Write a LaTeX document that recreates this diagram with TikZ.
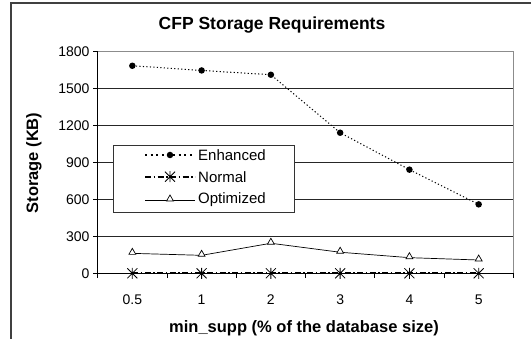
\documentclass[tikz,border=0pt]{standalone}
\usepackage{fontspec}
\setmainfont{Liberation Sans}
\usetikzlibrary{shapes.geometric}
\tikzset{
  plotarea/.style={shift={(97.7,273.3)},x=69.27pt,y=0.1231pt},
  titlefont/.style={font=\fontsize{17.5}{20}\selectfont\bfseries},
  axislbl/.style={font=\fontsize{16.5}{19}\selectfont\bfseries},
  ticklbl/.style={font=\fontsize{14}{16}\selectfont,inner sep=1pt},
  legtext/.style={font=\fontsize{15}{17}\selectfont,anchor=west,inner sep=0pt},
  axisline/.style={draw=black,line width=0.8pt},
  gridline/.style={draw=black!85,line width=0.8pt},
  enhline/.style={line width=1pt,dash pattern=on 1.2pt off 2.3pt},
  normline/.style={line width=1.7pt,dash pattern=on 6pt off 2.5pt on 1.5pt off 2.5pt},
  optline/.style={line width=0.7pt},
  dotmark/.style={circle,fill=black,inner sep=0pt,minimum size=6.5pt},
  trimark/.style={regular polygon,regular polygon sides=3,draw,fill=white,
    line width=0.7pt,inner sep=0pt,minimum size=8pt},
  starmark/.pic={\draw[line width=0.8pt] (-5pt,-5pt) -- (5pt,5pt) (-5pt,5pt) -- (5pt,-5pt)
    (0,-5.5pt) -- (0,5.5pt);}
}
\begin{document}
\begin{tikzpicture}[x=1pt,y=-1pt]
  \useasboundingbox (0,0) rectangle (531,339);
  % chart frame: left and top edges only
  \draw[black!75,line width=1.2pt] (11,339) -- (11,3) -- (531,3);
  \node[titlefont] (title) at (272,25) {CFP Storage Requirements};
  \node[axislbl,rotate=90] (ylabel) at (34,163) {Storage (KB)};
  \node[axislbl] (xlabel) at (304,328) {min\_supp (\% of the database size)};

  % grid, axes and ticks
  \begin{scope}[plotarea]
    \draw[black!45,line width=0.8pt] (0,1800) -- (6,1800) -- (6,0);
    \foreach \v in {300,600,...,1500}
      \draw[gridline] (0,\v) -- (6,\v);
    \foreach \v in {0,300,...,1800}{
      \draw[axisline] (0,\v) -- ++(-5pt,0);
      \node[ticklbl,anchor=east] (ytick\v) at ([xshift=-7pt]0,\v) {\v};
    }
    \draw[axisline] (0,1800) -- (0,0) -- (6,0);
    \foreach \b in {0,...,6}
      \draw[axisline] (\b,0) -- ++(0,-5pt);
    \foreach \c [count=\i from 0] in {0.5,1,2,3,4,5}
      \node[ticklbl] (xtick\i) at ([yshift=-26pt]\i+0.5,0) {\c};
  \end{scope}

  % legend
  \node[draw=black!80,fill=white,line width=0.8pt,inner sep=0pt,
    minimum width=181pt,minimum height=66.7pt,anchor=north west] (legend) at (113.3,145) {};
  \coordinate (legE1) at (145,155);   \coordinate (legE2) at (195,155);
  \coordinate (legN1) at (145,176.7); \coordinate (legN2) at (195,176.7);
  \coordinate (legO1) at (145,200);   \coordinate (legO2) at (195,200);
  \draw[enhline,line width=1.8pt,dash pattern=on 2pt off 3.6pt] (legE1) -- (legE2);
  \node[dotmark] (legEmark) at (170,155) {};
  \node[legtext] (legEtext) at (198,155) {Enhanced};
  \draw[normline] (legN1) -- (legN2);
  \pic (legNmark) at (170,176.7) {starmark};
  \node[legtext] (legNtext) at (198,176.7) {Normal};
  \draw[optline] (legO1) -- (legO2);
  \node[trimark] (legOmark) at (170,199) {};
  \node[legtext] (legOtext) at (198,200) {Optimized};

  % data series
  \begin{scope}[plotarea]
    \foreach \val [count=\i from 0] in {1686,1648,1613,1142,842,560}
      \coordinate (enh\i) at (\i+0.5,\val);
    \foreach \val [count=\i from 0] in {0,0,0,0,0,0}
      \coordinate (nrm\i) at (\i+0.5,\val);
    \foreach \val [count=\i from 0] in {162,146,244,171,127,108}
      \coordinate (opt\i) at (\i+0.5,\val);

    \draw[enhline] (enh0) -- (enh1) -- (enh2) -- (enh3) -- (enh4) -- (enh5);
    \draw[normline] (nrm0) -- (nrm1) -- (nrm2) -- (nrm3) -- (nrm4) -- (nrm5);
    \draw[optline] (opt0) -- (opt1) -- (opt2) -- (opt3) -- (opt4) -- (opt5);
    \foreach \i in {0,...,5}{
      \node[dotmark] (enhmark\i) at (enh\i) {};
      \pic (nrmmark\i) at (nrm\i) {starmark};
      \node[trimark] (optmark\i) at ([yshift=1pt]opt\i) {};
    }
  \end{scope}
\end{tikzpicture}
\end{document}
